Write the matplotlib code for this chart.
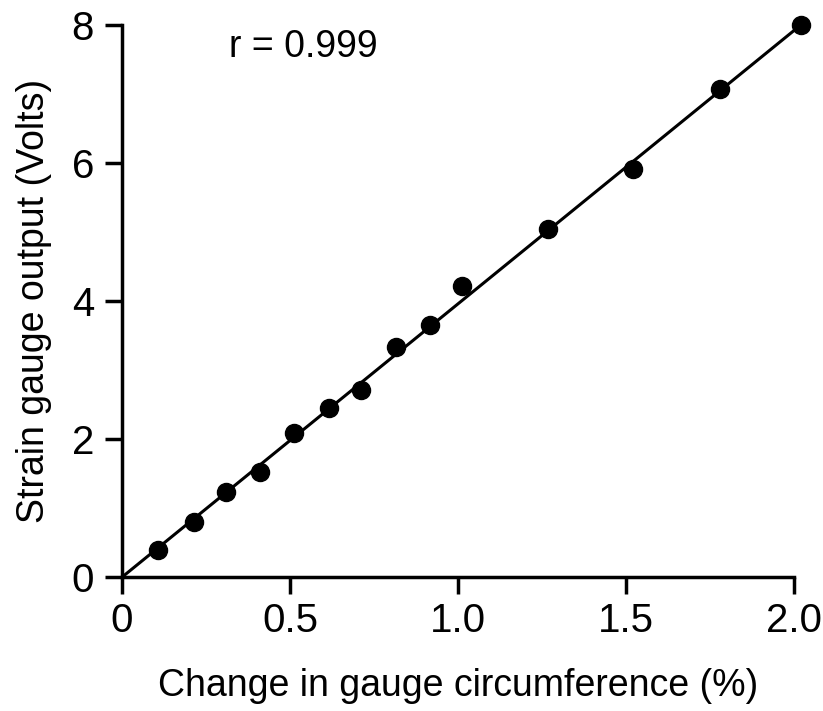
import matplotlib
matplotlib.use("Agg")
import matplotlib.pyplot as plt
import numpy as np

plt.rcParams['font.family'] = ['Liberation Sans', 'DejaVu Sans']

circ_change = [0.107, 0.214, 0.31, 0.41, 0.513, 0.617, 0.712, 0.816, 0.917, 1.012, 1.267, 1.52, 1.78, 2.02]
output_volts = [0.39, 0.80, 1.24, 1.52, 2.09, 2.45, 2.72, 3.34, 3.65, 4.22, 5.05, 5.91, 7.07, 8.0]
fit_x = [0.0, 2.02]
fit_y = [0.0, 8.0]
xticks = [0, 0.5, 1.0, 1.5, 2.0]
xticklabels = ['0', '0.5', '1.0', '1.5', '2.0']
yticks = [0, 2, 4, 6, 8]

fig = plt.figure(figsize=(8.23, 7.11), dpi=100)
ax = fig.add_axes([0.148, 0.188, 0.817, 0.777])

ax.plot(fit_x, fit_y, color='black', lw=2.2, clip_on=False, zorder=2)
ax.plot(circ_change, output_volts, 'o', color='black', ms=13, clip_on=False, zorder=3)

ax.set_xlim(0, 2.0)
ax.set_ylim(0, 8)
ax.set_xticks(xticks)
ax.set_xticklabels(xticklabels)
ax.set_yticks(yticks)
for s in ['top', 'right']:
    ax.spines[s].set_visible(False)
for s in ['left', 'bottom']:
    ax.spines[s].set_linewidth(2.5)
ax.tick_params(direction='out', length=12, width=2.5, labelsize=29, pad=6)
ax.tick_params(axis='y', pad=8)

ax.set_xlabel('Change in gauge circumference (%)', fontsize=27, labelpad=20)
ax.set_ylabel('Strain gauge output (Volts)', fontsize=27, labelpad=14)
ax.text(0.32, 7.68, 'r = 0.999', fontsize=27, va='center', ha='left')

fig.savefig('out.png', dpi=100)
